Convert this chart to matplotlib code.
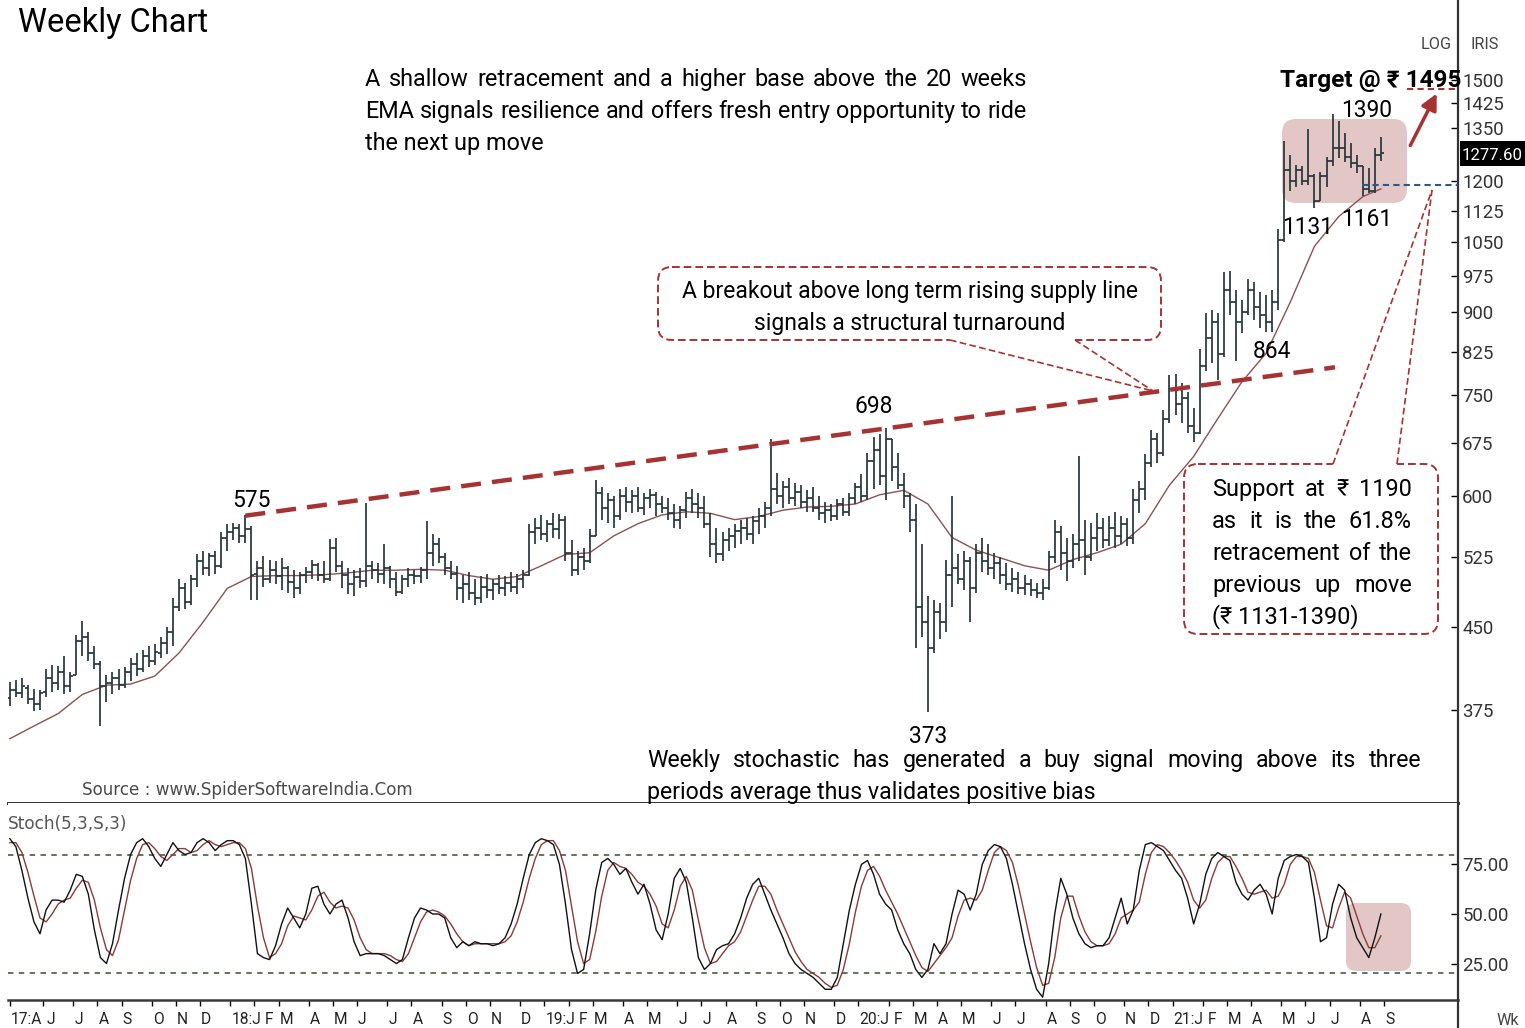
#!/usr/bin/env python3
"""Weekly IRIS bar chart: 20 week EMA, rising supply line, Stoch(5,3,S,3) panel."""

import pandas as pd
import matplotlib
matplotlib.use("Agg")
import matplotlib.pyplot as plt
from matplotlib.patches import FancyBboxPatch, Rectangle, FancyArrowPatch
from matplotlib.lines import Line2D
from matplotlib.transforms import Affine2D
from matplotlib.ticker import NullLocator
from matplotlib import font_manager

# ---------------- data (weekly, from 21 Apr 2017) ----------------
opens = [
    385, 392, 389, 394, 384, 380, 390, 402, 398, 408,
    395, 405, 436, 440, 425, 415, 395, 398, 402, 396,
    408, 415, 410, 422, 418, 425, 435, 445, 470, 490,
    476, 500, 520, 512, 526, 515, 548, 555, 560, 550,
    558, 506, 512, 500, 510, 503, 512, 497, 490, 505,
    508, 516, 505, 500, 535, 515, 505, 495, 502, 498,
    515, 510, 506, 512, 500, 486, 500, 505, 503, 510,
    530, 540, 525, 512, 506, 490, 495, 485, 480, 492,
    488, 495, 490, 496, 492, 500, 505, 555, 560, 552,
    565, 558, 570, 530, 510, 525, 520, 550, 605, 585,
    595, 575, 600, 592, 600, 585, 598, 602, 590, 585,
    578, 570, 582, 598, 590, 585, 565, 540, 528, 545,
    550, 556, 560, 552, 568, 575, 585, 610, 600, 612,
    598, 606, 592, 598, 585, 578, 582, 575, 590, 580,
    598, 612, 600, 648, 665, 628, 680, 640, 615, 600,
    570, 470, 455, 430, 465, 455, 505, 512, 500, 520,
    490, 530, 520, 512, 518, 505, 495, 500, 490, 495,
    488, 485, 490, 525, 555, 530, 520, 540, 545, 525,
    548, 560, 545, 560, 550, 565, 548, 595, 610, 645,
    680, 660, 712, 760, 735, 745, 700, 690, 800, 850,
    880, 820, 945, 920, 880, 900, 945, 910, 895, 880,
    920, 1055, 1230, 1200, 1230, 1200, 1215, 1150, 1215, 1255,
    1290, 1290, 1265, 1250, 1240, 1180, 1175, 1270,
]
highs = [
    399, 401, 402, 396, 393, 392, 410, 414, 413, 422,
    408, 442, 456, 445, 432, 418, 405, 408, 410, 412,
    420, 425, 428, 432, 434, 440, 450, 480, 500, 496,
    505, 528, 532, 530, 532, 555, 565, 566, 564, 576,
    562, 520, 526, 522, 520, 524, 515, 510, 508, 514,
    522, 518, 520, 546, 548, 520, 512, 510, 512, 591,
    520, 518, 540, 515, 508, 505, 512, 510, 514, 568,
    552, 548, 530, 520, 515, 505, 508, 500, 503, 506,
    500, 505, 504, 508, 506, 510, 565, 572, 576, 570,
    578, 577, 574, 545, 532, 535, 558, 622, 612, 605,
    600, 610, 612, 608, 612, 605, 610, 606, 600, 598,
    590, 588, 606, 610, 604, 600, 578, 560, 555, 560,
    565, 570, 572, 575, 585, 592, 680, 632, 620, 625,
    618, 615, 608, 612, 600, 592, 590, 596, 598, 605,
    618, 630, 660, 684, 688, 698, 680, 660, 632, 605,
    590, 540, 482, 478, 475, 522, 600, 528, 532, 525,
    540, 548, 540, 530, 525, 518, 512, 508, 505, 500,
    496, 500, 532, 570, 562, 548, 552, 656, 570, 566,
    578, 572, 575, 580, 575, 572, 610, 620, 658, 694,
    690, 725, 783, 785, 770, 755, 728, 830, 898, 905,
    898, 982, 985, 945, 925, 968, 962, 940, 935, 945,
    1080, 1310, 1270, 1245, 1240, 1345, 1218, 1225, 1265, 1390,
    1370, 1335, 1305, 1270, 1242, 1236, 1292, 1322,
]
lows = [
    378, 386, 385, 380, 374, 375, 386, 390, 392, 388,
    390, 405, 422, 418, 410, 362, 382, 388, 392, 394,
    400, 404, 408, 412, 414, 420, 424, 432, 466, 468,
    472, 492, 505, 503, 506, 512, 532, 545, 542, 541,
    478, 478, 492, 496, 495, 488, 485, 480, 484, 496,
    500, 498, 496, 498, 508, 490, 484, 482, 490, 492,
    500, 496, 495, 490, 482, 484, 492, 495, 496, 500,
    515, 518, 505, 500, 478, 475, 478, 472, 474, 480,
    478, 484, 482, 486, 484, 490, 503, 540, 545, 543,
    548, 546, 520, 503, 505, 510, 518, 550, 570, 566,
    560, 570, 580, 578, 580, 576, 585, 575, 578, 570,
    560, 558, 572, 578, 572, 560, 525, 518, 520, 532,
    535, 540, 545, 540, 552, 560, 575, 590, 585, 590,
    588, 585, 580, 580, 570, 566, 568, 570, 575, 575,
    590, 592, 595, 610, 615, 595, 620, 610, 585, 555,
    430, 440, 373, 425, 438, 445, 470, 495, 488, 455,
    485, 508, 505, 500, 495, 488, 486, 484, 483, 482,
    480, 478, 488, 518, 510, 498, 512, 520, 505, 520,
    532, 535, 538, 536, 540, 538, 540, 578, 595, 640,
    645, 655, 705, 718, 705, 690, 676, 688, 790, 805,
    775, 815, 895, 808, 860, 895, 885, 868, 862, 862,
    905, 1050, 1175, 1185, 1190, 1190, 1131, 1148, 1185, 1240,
    1262, 1252, 1235, 1222, 1161, 1170, 1170, 1255,
]
closes = [
    392, 389, 395, 384, 380, 389, 402, 398, 408, 395,
    404, 436, 440, 425, 415, 395, 398, 402, 396, 408,
    415, 410, 422, 418, 426, 435, 445, 470, 490, 476,
    500, 520, 512, 526, 515, 548, 555, 560, 550, 558,
    505, 512, 500, 510, 503, 512, 497, 490, 505, 508,
    516, 505, 500, 535, 515, 505, 495, 502, 498, 515,
    510, 506, 512, 500, 486, 500, 505, 503, 510, 530,
    540, 525, 512, 506, 490, 495, 485, 480, 492, 488,
    495, 490, 496, 492, 500, 505, 555, 560, 552, 565,
    558, 570, 530, 510, 525, 520, 550, 605, 585, 595,
    575, 600, 592, 600, 585, 598, 602, 590, 585, 578,
    570, 582, 598, 590, 585, 565, 540, 528, 545, 550,
    556, 560, 552, 568, 575, 585, 610, 600, 612, 598,
    606, 592, 598, 585, 578, 582, 575, 590, 580, 598,
    612, 600, 648, 665, 628, 680, 640, 615, 600, 570,
    470, 455, 430, 465, 455, 505, 512, 500, 520, 490,
    530, 520, 512, 518, 505, 495, 500, 490, 495, 488,
    485, 490, 525, 555, 530, 520, 540, 545, 525, 548,
    560, 545, 560, 550, 565, 548, 595, 610, 645, 680,
    660, 712, 760, 735, 745, 700, 690, 800, 850, 880,
    820, 945, 920, 880, 900, 945, 910, 895, 880, 920,
    1055, 1230, 1200, 1230, 1200, 1215, 1150, 1215, 1255, 1290,
    1290, 1265, 1250, 1240, 1180, 1175, 1270, 1277.6,
]

# 20 week EMA as drawn (every 4th week)
ema_weeks = list(range(0, 225, 4)) + [227]
ema_values = [
    352, 362, 372, 388, 396, 397, 404, 425, 455, 490,
    503, 504, 504, 505, 507, 510, 510, 511, 510, 504,
    500, 503, 515, 528, 530, 550, 565, 576, 580, 578,
    570, 574, 582, 586, 587, 590, 602, 608, 590, 548,
    533, 524, 515, 510, 522, 530, 540, 565, 615, 655,
    712, 772, 822, 920, 1040, 1110, 1160, 1180,
]

# Stoch(5,3,S,3): slow %K and %D
stoch_k = [
    88, 84, 72, 58, 46, 40, 52, 57, 57, 56,
    62, 70, 69, 60, 42, 28, 25, 35, 52, 68,
    80, 86, 88, 84, 78, 74, 80, 86, 82, 80,
    81, 86, 88, 86, 82, 85, 87, 87, 85, 78,
    55, 30, 28, 27, 34, 45, 53, 48, 43, 50,
    63, 64, 55, 50, 55, 57, 48, 36, 29, 30,
    30, 30, 29, 27, 25, 27, 38, 48, 53, 52,
    50, 50, 48, 38, 33, 36, 34, 36, 35, 35,
    34, 35, 38, 45, 55, 68, 80, 86, 88, 87,
    85, 75, 55, 32, 20, 22, 40, 62, 76, 78,
    75, 70, 73, 66, 60, 65, 55, 42, 37, 50,
    68, 73, 66, 48, 28, 22, 25, 32, 34, 35,
    40, 48, 58, 65, 68, 60, 52, 45, 38, 30,
    25, 22, 20, 18, 15, 12, 12, 18, 35, 52,
    65, 75, 77, 70, 60, 55, 52, 42, 35, 30,
    22, 18, 22, 35, 30, 35, 50, 62, 60, 52,
    60, 75, 82, 85, 84, 78, 65, 50, 35, 22,
    12, 8, 25, 50, 68, 60, 48, 40, 35, 33,
    34, 34, 38, 48, 58, 45, 52, 72, 85, 86,
    84, 82, 77, 72, 68, 58, 45, 55, 70, 78,
    81, 79, 77, 66, 60, 57, 62, 65, 60, 50,
    68, 77, 79, 80, 79, 76, 58, 36, 38, 55,
    65, 62, 48, 38, 33, 28, 38, 50,
]
stoch_d = [
    86, 86, 81, 71, 59, 48, 46, 50, 55, 57,
    58, 63, 67, 66, 57, 43, 32, 29, 37, 52,
    67, 78, 85, 86, 83, 79, 77, 80, 83, 83,
    81, 82, 85, 87, 85, 84, 85, 86, 86, 83,
    73, 54, 38, 28, 30, 35, 44, 49, 48, 47,
    52, 59, 61, 56, 53, 54, 53, 47, 38, 32,
    30, 30, 30, 29, 27, 26, 30, 38, 46, 51,
    52, 51, 49, 45, 40, 36, 34, 35, 35, 35,
    35, 35, 36, 39, 46, 56, 68, 78, 85, 87,
    87, 82, 72, 54, 36, 25, 27, 41, 59, 72,
    76, 74, 73, 70, 66, 64, 60, 54, 45, 43,
    52, 64, 69, 62, 47, 33, 25, 26, 30, 34,
    36, 41, 49, 57, 64, 64, 60, 52, 45, 38,
    31, 26, 22, 20, 18, 15, 13, 14, 22, 35,
    51, 64, 72, 74, 69, 62, 56, 50, 43, 36,
    29, 23, 21, 25, 29, 33, 38, 49, 57, 58,
    57, 62, 72, 81, 84, 82, 76, 64, 50, 36,
    23, 14, 15, 28, 48, 59, 59, 49, 41, 36,
    34, 34, 35, 40, 48, 50, 52, 56, 70, 81,
    85, 84, 81, 77, 72, 66, 57, 53, 57, 68,
    76, 79, 79, 74, 68, 61, 60, 61, 62, 58,
    59, 65, 75, 79, 79, 78, 71, 57, 44, 43,
    53, 61, 58, 49, 40, 33, 33, 39,
]

price_ticks = [375, 450, 525, 600, 675, 750, 825, 900, 975, 1050, 1125, 1200, 1350, 1425, 1500]
stoch_ticks = [25, 50, 75]
supply_line = ([39, 219.4], [575, 797])   # through the 575 and 698 highs
support_level = 1190
target_level = 1470
last_price = 1277.60
swing_labels = [("575", 251, 507), ("698", 874, 413), ("373", 928, 743), ("864", 1272, 358),
                ("1131", 1308, 234), ("1161", 1367, 226), ("1390", 1367, 117)]

# ---------------- figure ----------------
W, H, DPI = 1525, 1028, 100
installed = {f.name for f in font_manager.fontManager.ttflist}
MAIN_FONT = 'Liberation Sans Narrow' if 'Liberation Sans Narrow' in installed else 'Roboto'
plt.rcParams['font.family'] = [MAIN_FONT, 'DejaVu Sans']
BAR = '#26363a'
RED = '#a83232'
WEEK_PX = 6.04
X0 = -0.3

fig = plt.figure(figsize=(W / DPI, H / DPI), dpi=DPI)
renderer = fig.canvas.get_renderer()
# pixel coordinates measured from the top-left corner of the image
px = Affine2D().scale(1 / DPI, -1 / DPI).translate(0, H / DPI) + fig.dpi_scale_trans


def fit_size(s, width, base=20, **kw):
    """font size at which s is `width` pixels wide"""
    t = fig.text(0, 0, s, fontsize=base, **kw)
    w = t.get_window_extent(renderer).width
    t.remove()
    return base * width / w


BODY_TOP = fit_size("the next up move", 178)
BODY_BRK = fit_size("A breakout above long term rising supply line", 454)
BODY_SUP = fit_size("(\u20b9 1131-1390)", 146)
BODY_STO = fit_size("periods average thus validates positive bias", 447)
NUM = fit_size("1390", 51)
TICK = fit_size("1500", 42)
MONTH = fit_size("18:J", 30)

AX_L, AX_R, SPLIT, BOT = 8, 1458, 803, 1000
ax = fig.add_axes([AX_L / W, 1 - SPLIT / H, (AX_R - AX_L) / W, SPLIT / H])
ax2 = fig.add_axes([AX_L / W, 1 - BOT / H, (AX_R - AX_L) / W, (BOT - SPLIT) / H], sharex=ax)

n = len(closes)
x = list(range(n))
dates = pd.date_range("2017-04-21", periods=n + 1, freq="W-FRI")   # one spare week for the axis

# OHLC bars
ax.vlines(x, lows, highs, color=BAR, lw=1.25, zorder=3)
ax.hlines(opens, [i - 0.5 for i in x], x, color=BAR, lw=1.25, zorder=3)
ax.hlines(closes, x, [i + 0.5 for i in x], color=BAR, lw=1.25, zorder=3)
ax.plot(ema_weeks, ema_values, color='#8c5252', lw=1.0, zorder=2)

ax.plot(*supply_line, color=RED, lw=3.2, ls=(0, (4.5, 2.5)), zorder=4, solid_capstyle='butt')
ax.plot([223.8, 260], [support_level] * 2, color='#2a5a8a', lw=1.5, ls=(0, (3, 2)), zorder=4)
ax.plot([231.3, 260], [target_level] * 2, color=RED, lw=1.5, ls=(0, (3, 2)), zorder=4)

ax.set_yscale('log')
ax.set_xlim(X0, X0 + (AX_R - AX_L) / WEEK_PX)
ax.set_ylim(305.6, 1788)
ax.yaxis.tick_right()
ax.set_yticks(price_ticks)
ax.set_yticklabels([str(t) for t in price_ticks])
ax.yaxis.set_minor_locator(NullLocator())
ax.tick_params(axis='y', direction='in', length=5, width=1, pad=3, labelsize=TICK, labelcolor='#333333')
ax.tick_params(axis='x', bottom=False, labelbottom=False)

# stochastic panel
ax2.plot(x, stoch_d, color='#8b3a3a', lw=1.0, zorder=3)
ax2.plot(x, stoch_k, color='#111111', lw=1.0, zorder=4)
for lvl in (80, 20):
    ax2.axhline(lvl, color='#4f6b4f', lw=1.3, ls=(0, (3, 3)), zorder=2)
ax2.set_ylim(6.6, 106)
ax2.yaxis.tick_right()
ax2.set_yticks(stoch_ticks)
ax2.set_yticklabels([f"{t:.2f}" for t in stoch_ticks])
ax2.tick_params(axis='y', direction='in', length=5, width=1, pad=3, labelsize=TICK, labelcolor='#333333')

# month ticks sit on the boundary before the first week of each month;
# labels start right of their tick and are pushed right when crowded
LETTERS = "JFMAMJJASOND"
tick_pos = [0]
tick_lab = [f"{dates[0]:%y}:{LETTERS[dates[0].month - 1]}"]
for i in range(1, len(dates)):
    if dates[i].month == dates[i - 1].month or i < 4:
        continue
    lab = f"{dates[i]:%y}:J" if dates[i].month == 1 else LETTERS[dates[i].month - 1]
    tick_pos.append(i - 0.5)
    tick_lab.append(lab)
ax2.set_xticks(tick_pos)
ax2.set_xticklabels([])
ax2.tick_params(axis='x', direction='out', length=4, width=1)

prev_right = -10
for pos, lab in zip(tick_pos, tick_lab):
    xpix = max(AX_L + (pos - X0) * WEEK_PX + 1, prev_right + 4)
    t = fig.text(xpix, 1024, lab, transform=px, fontsize=MONTH, color='#222222', va='baseline')
    prev_right = xpix + t.get_window_extent(renderer).width

for a in (ax, ax2):
    a.spines['left'].set_visible(False)
    a.spines['top'].set_visible(False)
    a.spines['right'].set_color('#333333')
    a.spines['right'].set_linewidth(1.6)
    a.spines['bottom'].set_color('#3a3a3a')
ax.spines['bottom'].set_linewidth(2.2)
ax2.spines['bottom'].set_linewidth(1.8)
fig.add_artist(Line2D([AX_R, AX_R], [BOT, H], transform=px, color='#333333', lw=1.6))

# highlight boxes
ax.add_artist(FancyBboxPatch((1282, 119), 125, 84, boxstyle='round,pad=0,rounding_size=14',
                             transform=px, fc='#dcb9b9', ec='none', alpha=0.8, zorder=1))
ax2.add_artist(FancyBboxPatch((1346, 903), 65, 68, boxstyle='round,pad=0,rounding_size=10',
                              transform=px, fc='#dcb9b9', ec='none', alpha=0.8, zorder=1))

# last price tag
fig.add_artist(Rectangle((1460, 141), 70, 25, transform=px, fc='black', ec='none'))
fig.text(1462, 160, f"{last_price:.2f}", transform=px, color='white',
         fontsize=fit_size("1277.60", 61), va='baseline')

# callout boxes
def callout_box(x0, y0, w, h, gap, gap_y):
    fig.add_artist(FancyBboxPatch((x0, y0), w, h, boxstyle='round,pad=0,rounding_size=14',
                                  transform=px, fc='white', ec=RED, lw=1.4, ls=(0, (4, 2))))
    fig.add_artist(Line2D(gap, [gap_y, gap_y], transform=px, color='white', lw=3))


callout_box(658, 267, 503, 73, [952, 1073], 340)
callout_box(1184, 464, 254, 170, [1335, 1395], 464)
for xs, ys in (([950, 1153], [340, 391]), ([1075, 1153], [340, 391]),
               ([1333, 1432], [464, 190]), ([1397, 1432], [464, 190])):
    fig.add_artist(Line2D(xs, ys, transform=px, color=RED, lw=1.2, ls=(0, (4, 2))))
fig.add_artist(FancyArrowPatch((1409, 148), (1438, 91), transform=px, arrowstyle='-|>',
                               mutation_scale=24, lw=2.5, color=RED))

# ---------------- text ----------------
def justify(line, x0, x1, y, size):
    words = line.split(' ')
    texts = [fig.text(0, 0, w, transform=px, fontsize=size, va='baseline') for w in words]
    widths = [t.get_window_extent(renderer).width for t in texts]
    gap = max((x1 - x0 - sum(widths)) / (len(words) - 1), 3)
    pos = x0
    for t, w in zip(texts, widths):
        t.set_position((pos, y))
        pos += w + gap


def left(s, x0, y, size, **kw):
    fig.text(x0, y, s, transform=px, fontsize=size, va='baseline', **kw)


left("Weekly Chart", 18, 32, fit_size("Weekly Chart", 190))

justify("A shallow retracement and a higher base above the 20 weeks", 365, 1027, 86, BODY_TOP)
justify("EMA signals resilience and offers fresh entry opportunity to ride", 365, 1027, 118, BODY_TOP)
left("the next up move", 365, 150, BODY_TOP)

fig.text(910, 298, "A breakout above long term rising supply line", transform=px,
         fontsize=BODY_BRK, ha='center', va='baseline')
fig.text(910, 330, "signals a structural turnaround", transform=px,
         fontsize=BODY_BRK, ha='center', va='baseline')

justify("Support at \u20b9 1190", 1212, 1412, 496, BODY_SUP)
justify("as it is the 61.8%", 1212, 1412, 528, BODY_SUP)
justify("retracement of the", 1212, 1412, 560, BODY_SUP)
justify("previous up move", 1212, 1412, 592, BODY_SUP)
left("(\u20b9 1131-1390)", 1212, 623, BODY_SUP)

justify("Weekly stochastic has generated a buy signal moving above its three", 647, 1421, 767, BODY_STO)
left("periods average thus validates positive bias", 647, 799, BODY_STO)

for label, cx, by in swing_labels:
    fig.text(cx, by, label, transform=px, fontsize=NUM, ha='center', va='baseline')
target = "Target @ \u20b9 1495"
fig.text(1462, 87, target, transform=px, fontweight='bold', ha='right', va='baseline',
         fontsize=fit_size(target, 181, fontweight='bold'))

DV = ['DejaVu Sans']
src = "Source : www.SpiderSoftwareIndia.Com"
left(src, 82, 795, fit_size(src, 330, family=DV), family=DV, color='#4a4a4a')
left("Stoch(5,3,S,3)", 8, 829, fit_size("Stoch(5,3,S,3)", 120, family=DV), family=DV, color='#555555')
small = fit_size("LOG", 31)
left("LOG", 1421, 49, small, color='#444444')
left("IRIS", 1470, 49, small, color='#444444')
left("Wk", 1497, 1025, small, color='#444444')

fig.savefig("out.png", dpi=DPI)
